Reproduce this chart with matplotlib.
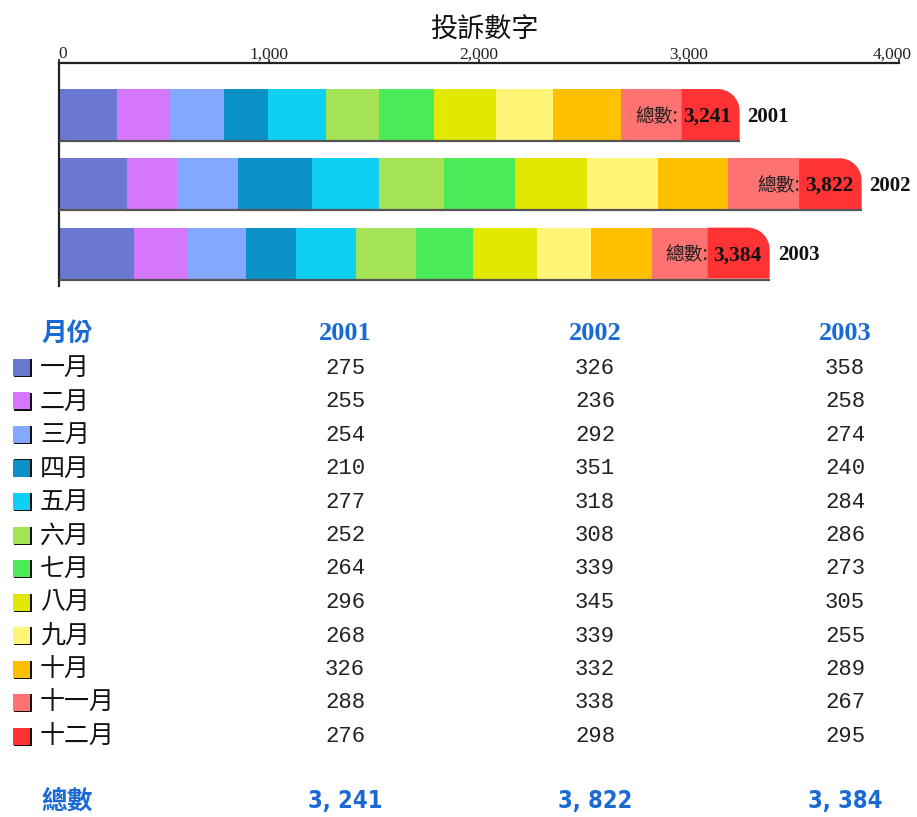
import matplotlib
matplotlib.use("Agg")
import matplotlib.pyplot as plt
import matplotlib.transforms as mtransforms
from matplotlib.path import Path
from matplotlib.patches import PathPatch, Rectangle
from matplotlib import font_manager as fm

years = ["2001", "2002", "2003"]
months = ["一月", "二月", "三月", "四月", "五月", "六月", "七月", "八月", "九月", "十月", "十一月", "十二月"]
v2001 = [275, 255, 254, 210, 277, 252, 264, 296, 268, 326, 288, 276]
v2002 = [326, 236, 292, 351, 318, 308, 339, 345, 339, 332, 338, 298]
v2003 = [358, 258, 274, 240, 284, 286, 273, 305, 255, 289, 267, 295]
series = [v2001, v2002, v2003]
colors = ["#6a78d2", "#d477fd", "#82a9fd", "#0a92c6", "#10d0f2", "#a4e256",
          "#4aea58", "#e2e800", "#fff576", "#ffc000", "#ff7272", "#ff3333"]
xticks = [0, 1000, 2000, 3000, 4000]
title = "投訴數字"
total_label = "總數"
header_label = "月份"

W, H = 917, 817
fig = plt.figure(figsize=(W / 100, H / 100), dpi=100)
CJK = ["Noto Sans CJK TC", "DejaVu Sans"]
BLUE = "#1a6ad4"

cond_files = [f for f in fm.findSystemFonts() if "DejaVuSansCondensed-Bold.ttf" in f]
cond_prop = fm.FontProperties(fname=cond_files[0], size=17) if cond_files else \
    fm.FontProperties(family="DejaVu Sans", weight="bold", size=15)

def fx(px):
    return px / W

def fy(py):
    return 1 - py / H

ax_l, ax_r, ax_t, ax_b = 59, 899, 63, 286
ax = fig.add_axes([fx(ax_l), fy(ax_b), fx(ax_r - ax_l), (ax_b - ax_t) / H])
ax.set_xlim(0, 4000)
ax.set_ylim(ax_b - ax_t, 0)
pxu = (ax_r - ax_l) / 4000.0

bar_h = 51
centers = [51.5 + 69.3 * i for i in range(len(years))]
r_px = 22
rx = r_px / pxu
ry = r_px

for yi, (yr, vals) in enumerate(zip(years, series)):
    c = centers[yi]
    top, bot = c - bar_h / 2, c + bar_h / 2
    left = 0
    for mi, v in enumerate(vals):
        if mi < len(vals) - 1:
            ax.add_patch(Rectangle((left, top), v, bar_h, facecolor=colors[mi],
                                   edgecolor="none", zorder=2))
        else:
            right = left + v
            k = 0.5523
            verts = [(left, bot), (right, bot), (right, top + ry),
                     (right, top + ry - k * ry), (right - rx + k * rx, top), (right - rx, top),
                     (left, top), (left, bot)]
            codes = [Path.MOVETO, Path.LINETO, Path.LINETO,
                     Path.CURVE4, Path.CURVE4, Path.CURVE4,
                     Path.LINETO, Path.CLOSEPOLY]
            ax.add_patch(PathPatch(Path(verts, codes), facecolor=colors[mi],
                                   edgecolor="none", zorder=2))
        left += v
    total = sum(vals)
    ax.plot([0, total], [bot + 1, bot + 1], color="#555555", lw=1.6, zorder=3,
            solid_capstyle="butt")
    tx = total - 8 / pxu
    t1 = ax.text(tx, c + 2, f"{total:,}", ha="right", va="center",
                 family="Liberation Serif", fontweight="bold", fontsize=15.5,
                 color="#111111", zorder=4)
    ax.annotate(total_label + ":", xy=(0, 0.5), xycoords=t1, ha="right", va="center",
                family=["Noto Sans CJK TC", "Liberation Serif"], fontsize=13.5,
                color="#222222", zorder=4, xytext=(-4, 0), textcoords="offset points")
    ax.text(total + 8 / pxu, c + 2, yr, ha="left", va="center",
            family="Liberation Serif", fontweight="bold", fontsize=15, color="#111111")

ax.xaxis.tick_top()
ax.set_xticks(xticks)
ax.set_xticklabels([f"{t:,}" for t in xticks], family="Liberation Serif", fontsize=12.5,
                   color="#222222")
ax.tick_params(axis="x", direction="out", length=3, width=1.2, pad=-2.5, color="#222222")
labels = ax.get_xticklabels()
labels[0].set_transform(labels[0].get_transform() +
                        mtransforms.ScaledTranslation(4 / 100, 0, fig.dpi_scale_trans))
labels[-1].set_transform(labels[-1].get_transform() +
                         mtransforms.ScaledTranslation(-7 / 100, 0, fig.dpi_scale_trans))
ax.set_yticks([])
for s in ["right", "bottom"]:
    ax.spines[s].set_visible(False)
for s in ["top", "left"]:
    ax.spines[s].set_linewidth(1.6)
    ax.spines[s].set_color("#222222")
ax.patch.set_alpha(0)

fig.text(fx(484), fy(30), title, ha="center", va="center", family=CJK,
         fontsize=19.5, color="#111111")

col_x = [345, 595, 845]
head_y = 333
row_y0, row_dy = 368, 33.5
fig.text(fx(41), fy(head_y), header_label, ha="left", va="center", family=CJK,
         fontweight="bold", fontsize=18.5, color=BLUE)
for cx, yr in zip(col_x, years):
    fig.text(fx(cx), fy(head_y), yr, ha="center", va="center",
             family="Liberation Serif", fontweight="bold", fontsize=19, color=BLUE)

for mi, m in enumerate(months):
    y = row_y0 + row_dy * mi
    fig.add_artist(Rectangle((fx(14), fy(y + 9)), fx(18), 18 / H, facecolor="#111111",
                             edgecolor="none", transform=fig.transFigure))
    fig.add_artist(Rectangle((fx(13), fy(y + 8)), fx(17), 17 / H, facecolor=colors[mi],
                             edgecolor="none", transform=fig.transFigure))
    fig.text(fx(40), fy(y), m, ha="left", va="center", family=CJK, fontsize=18,
             fontweight="light", color="#111111")
    for cx, vals in zip(col_x, series):
        fig.text(fx(cx), fy(y), str(vals[mi]), ha="center", va="center",
                 family="Liberation Mono", fontsize=16, color="#222222")

tot_y = 801
fig.text(fx(41), fy(tot_y), total_label, ha="left", va="center", family=CJK,
         fontweight="bold", fontsize=18.5, color=BLUE)
for cx, vals in zip(col_x, series):
    s = f"{sum(vals):,}".replace(",", ", ")
    fig.text(fx(cx), fy(tot_y), s, ha="center", va="center",
             fontproperties=cond_prop, color=BLUE)

fig.savefig("out.png", dpi=100)
